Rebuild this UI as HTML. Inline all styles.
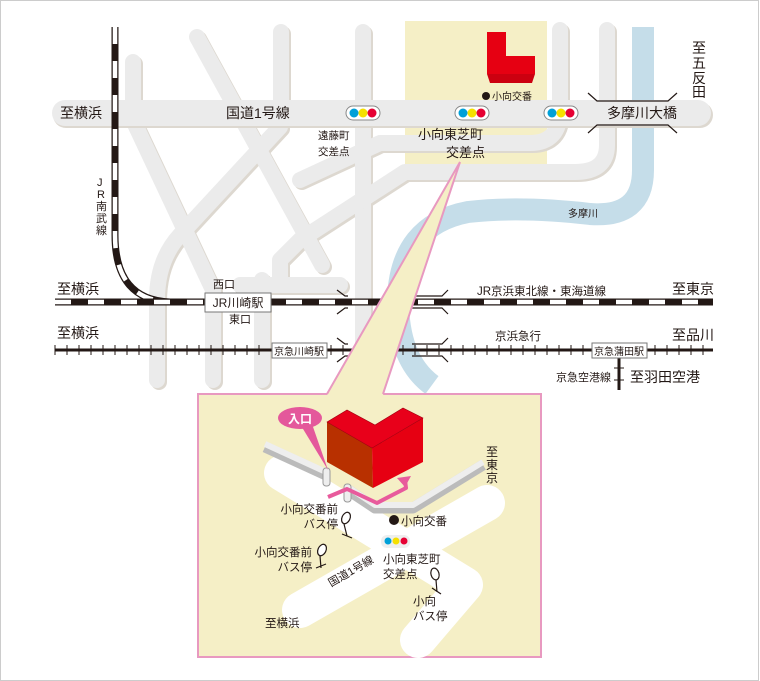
<!DOCTYPE html>
<html><head><meta charset="utf-8">
<style>
html,body{margin:0;padding:0;background:#fff;}
svg{display:block;font-family:"Liberation Sans","Noto Sans CJK JP",sans-serif;}
</style></head><body>
<svg width="760" height="681" viewBox="0 0 760 681" xmlns="http://www.w3.org/2000/svg">
<rect x="0.5" y="0.5" width="758" height="680" fill="#fff" stroke="#ccc"/>
<!-- yellow highlight -->
<rect x="405" y="21" width="142" height="145" fill="#f5efc6"/>
<!-- river -->
<path d="M643,27 L643,170 Q643,218 590,214 Q520,206 468,212 Q400,225 398,300 Q398,360 432,385" fill="none" stroke="#c5dde9" stroke-width="22"/>
<!-- roads -->
<g fill="none" stroke-linecap="round" stroke-linejoin="round">
<g stroke="#ddd8d0" stroke-width="16" transform="translate(2,2)">
<path d="M133,62 L133,113"/><path d="M281,32 L281,113"/><path d="M197,37 L322,265"/>
<path d="M133,120 L213,290 L213,380"/><path d="M280,127 L180,235 Q157,260 157,300 L157,380"/>
<path d="M262,280 L262,380"/><path d="M363,32 L363,380"/>
<path d="M560,30 L560,110 Q560,143 530,143 L380,143 L300,180"/>
<path d="M607,30 L607,145 Q607,172 575,172 L405,172 L300,240 L280,260 L280,285"/>
<path d="M240,285 L340,285"/>
</g>
<g stroke="#ebebeb" stroke-width="16">
<path d="M133,62 L133,113"/><path d="M281,32 L281,113"/><path d="M197,37 L322,265"/>
<path d="M133,120 L213,290 L213,380"/><path d="M280,127 L180,235 Q157,260 157,300 L157,380"/>
<path d="M262,280 L262,380"/><path d="M363,32 L363,380"/>
<path d="M560,30 L560,110 Q560,143 530,143 L380,143 L300,180"/>
<path d="M607,30 L607,145 Q607,172 575,172 L405,172 L300,240 L280,260 L280,285"/>
<path d="M240,285 L340,285"/>
</g>
<path d="M66,115 L700,115" stroke="#ddd8d0" stroke-width="26"/>
<path d="M65,113 L698,113" stroke="#ebebeb" stroke-width="26"/>
</g>
<!-- red building top -->
<polygon points="487,32 506,32 506,56 535,56 535,74 487,74" fill="#e60012"/>
<polygon points="487,74 535,74 532,83 490,83" fill="#cc0010"/>
<circle cx="486" cy="96" r="4" fill="#231815"/>
<text x="492" y="100" font-size="10" fill="#231815">小向交番</text>
<!-- traffic lights -->
<g>
<rect x="346" y="106" width="34" height="14" rx="7" fill="#fff" stroke="#888"/>
<circle cx="354" cy="113" r="4.5" fill="#00a0d8"/><circle cx="363" cy="113" r="4.5" fill="#f5e000"/><circle cx="372" cy="113" r="4.5" fill="#e60033"/>
<rect x="455" y="106" width="34" height="14" rx="7" fill="#fff" stroke="#888"/>
<circle cx="463" cy="113" r="4.5" fill="#00a0d8"/><circle cx="472" cy="113" r="4.5" fill="#f5e000"/><circle cx="481" cy="113" r="4.5" fill="#e60033"/>
<rect x="544" y="106" width="34" height="14" rx="7" fill="#fff" stroke="#888"/>
<circle cx="552" cy="113" r="4.5" fill="#00a0d8"/><circle cx="561" cy="113" r="4.5" fill="#f5e000"/><circle cx="570" cy="113" r="4.5" fill="#e60033"/>
</g>
<!-- bridge marks -->
<g stroke="#231815" stroke-width="1.2" fill="none">
<path d="M588,93 L597,101 L668,101 L677,93"/><path d="M588,133 L597,125 L668,125 L677,133"/>
<path d="M337,290 L345,296 L348,296"/><path d="M337,314 L345,308 L348,308"/>
<path d="M448,290 L442,296 L412,296"/><path d="M448,314 L442,308 L412,308"/>
<path d="M337,338 L345,344 L348,344"/><path d="M337,362 L345,356 L348,356"/>
<path d="M448,338 L442,344 L412,344"/><path d="M448,362 L442,356 L412,356"/>
</g>
<!-- JR lines -->
<path d="M115,27 L115,235 Q115,300 170,302" fill="none" stroke="#231815" stroke-width="7"/>
<path d="M115,27 L115,235 Q115,300 170,302" fill="none" stroke="#fff" stroke-width="4.5" stroke-dasharray="17 17"/>
<line x1="55" y1="302" x2="713" y2="302" stroke="#231815" stroke-width="7"/>
<line x1="55" y1="302" x2="713" y2="302" stroke="#fff" stroke-width="4.5" stroke-dasharray="16 17"/>
<!-- Keikyu -->
<line x1="55" y1="350" x2="713" y2="350" stroke="#231815" stroke-width="3"/>
<path d="M55,345 v10 M67,345 v10 M79,345 v10 M91,345 v10 M103,345 v10 M115,345 v10 M127,345 v10 M139,345 v10 M151,345 v10 M163,345 v10 M175,345 v10 M187,345 v10 M199,345 v10 M211,345 v10 M223,345 v10 M235,345 v10 M247,345 v10 M259,345 v10 M331,345 v10 M343,345 v10 M355,345 v10 M367,345 v10 M379,345 v10 M391,345 v10 M403,345 v10 M415,345 v10 M427,345 v10 M439,345 v10 M451,345 v10 M463,345 v10 M475,345 v10 M487,345 v10 M499,345 v10 M511,345 v10 M523,345 v10 M535,345 v10 M547,345 v10 M559,345 v10 M571,345 v10 M583,345 v10 M655,345 v10 M667,345 v10 M679,345 v10 M691,345 v10 M703,345 v10" stroke="#231815" stroke-width="1"/>
<line x1="619" y1="358" x2="619" y2="390" stroke="#231815" stroke-width="3"/>
<path d="M614,368 h10 M614,380 h10" stroke="#231815" stroke-width="1"/>
<!-- station boxes -->
<rect x="205" y="293" width="66" height="19" fill="#fff" stroke="#777"/>
<text x="238" y="307" font-size="12" text-anchor="middle" fill="#231815">JR川崎駅</text>
<rect x="272" y="343" width="55" height="15" fill="#fff" stroke="#777"/>
<text x="299" y="355" font-size="10" text-anchor="middle" fill="#231815">京急川崎駅</text>
<rect x="592" y="343" width="55" height="15" fill="#fff" stroke="#777"/>
<text x="619" y="355" font-size="10" text-anchor="middle" fill="#231815">京急蒲田駅</text>
<!-- labels main -->
<g fill="#231815">
<text x="60" y="118" font-size="14">至横浜</text>
<text x="226" y="118" font-size="14">国道1号線</text>
<text x="318" y="139" font-size="10.5">遠藤町</text>
<text x="318" y="155" font-size="10.5">交差点</text>
<text x="418" y="139" font-size="13">小向東芝町</text>
<text x="446" y="157" font-size="13">交差点</text>
<text x="607" y="118" font-size="14">多摩川大橋</text>
<text x="568" y="217" font-size="10">多摩川</text>
<text font-size="14" x="692" y="53">至</text><text font-size="14" x="692" y="68">五</text><text font-size="14" x="692" y="83">反</text><text font-size="14" x="692" y="97">田</text>
<text font-size="11" x="97" y="186">J</text><text font-size="11" x="97" y="198">R</text><text font-size="11" x="96" y="210">南</text><text font-size="11" x="96" y="222">武</text><text font-size="11" x="96" y="234">線</text>
<text x="213" y="288" font-size="11">西口</text>
<text x="229" y="323" font-size="11">東口</text>
<text x="57" y="294" font-size="14">至横浜</text>
<text x="57" y="338" font-size="14">至横浜</text>
<text x="477" y="295" font-size="11.5">JR京浜東北線・東海道線</text>
<text x="672" y="294" font-size="14">至東京</text>
<text x="495" y="340" font-size="11.5">京浜急行</text>
<text x="672" y="340" font-size="14">至品川</text>
<text x="556" y="381" font-size="11">京急空港線</text>
<text x="630" y="382" font-size="14">至羽田空港</text>
</g>
<!-- callout -->
<rect x="198" y="394" width="343" height="263" fill="#f5efc6" stroke="#e899c0" stroke-width="2"/>
<polygon points="460,162 327,395 383,395" fill="#f5efc6"/>
<path d="M327,394 L460,162 L383,394" fill="none" stroke="#e899c0" stroke-width="2"/>
<!-- inset roads -->
<g fill="none" stroke="#fff" stroke-width="36" stroke-linecap="round" stroke-linejoin="round">
<path d="M282,473 L465,585 L418,640"/>
<path d="M300,610 L487,503"/>
</g>
<!-- walls -->
<g fill="none" stroke-linejoin="round">
<path d="M265,447 L326,475" stroke="#bbb" stroke-width="11"/>
<path d="M265,444 L326,472" stroke="#eee" stroke-width="6"/>
<path d="M348,490 L375,508 L413,508 L483,465" stroke="#bbb" stroke-width="11"/>
<path d="M348,487 L375,505 L413,505 L483,462" stroke="#eee" stroke-width="6"/>
</g>
<rect x="323" y="468" width="7" height="18" rx="3" fill="#eee" stroke="#999"/>
<rect x="344" y="484" width="7" height="18" rx="3" fill="#eee" stroke="#999"/>
<!-- building -->
<polygon points="327,422 372,448 373,488 327,462" fill="#b83000"/>
<polygon points="372,448 423,418 423,462 373,488" fill="#e60012"/>
<polygon points="327,422 347,410 375,425 403,408 423,418 372,448" fill="#e8001a" stroke="#a00010" stroke-width="0.6"/>
<!-- pink arrow -->
<path d="M328,497 L347,489 L377,503 L406,488 L405,480" fill="none" stroke="#e85a9c" stroke-width="4" stroke-linejoin="round"/>
<polygon points="397,478 411,476 405,487" fill="#e85a9c"/>
<!-- entrance bubble -->
<polygon points="300,424 312,424 328,470" fill="#e4589b"/>
<ellipse cx="300" cy="418" rx="22" ry="11" fill="#e4589b"/>
<text x="300" y="423" font-size="12" fill="#fff" text-anchor="middle" font-weight="bold">入口</text>
<!-- inset details -->
<g fill="#231815">
<text font-size="12" x="486" y="456">至</text><text font-size="12" x="486" y="469">東</text><text font-size="12" x="486" y="482">京</text>
<text x="338" y="513" font-size="11.5" text-anchor="end">小向交番前</text>
<text x="338" y="528" font-size="11.5" text-anchor="end">バス停</text>
<circle cx="394" cy="520" r="5"/>
<text x="401" y="525" font-size="11.5">小向交番</text>
<text x="312" y="556" font-size="11.5" text-anchor="end">小向交番前</text>
<text x="312" y="571" font-size="11.5" text-anchor="end">バス停</text>
<text x="383" y="563" font-size="11.5">小向東芝町</text>
<text x="383" y="578" font-size="11.5">交差点</text>
<text x="413" y="605" font-size="11.5">小向</text>
<text x="413" y="620" font-size="11.5">バス停</text>
<text x="265" y="627" font-size="11.5">至横浜</text>
<text x="0" y="0" font-size="11" transform="translate(331,587) rotate(-30)">国道1号線</text>
</g>
<rect x="381" y="535" width="29" height="13" rx="6" fill="#eee"/>
<circle cx="388" cy="541" r="3.5" fill="#00a0d8"/><circle cx="396" cy="541" r="3.5" fill="#f5e000"/><circle cx="404" cy="541" r="3.5" fill="#e60033"/>
<g fill="#fff" stroke="#231815" stroke-width="1.2">
<ellipse cx="346" cy="518" rx="4" ry="6" transform="rotate(25 346 518)"/>
<path d="M344,524 L347,536 M342,534 L352,538" fill="none"/>
<ellipse cx="322" cy="550" rx="4" ry="6" transform="rotate(25 322 550)"/>
<path d="M320,556 L321,568 M316,568 L326,564" fill="none"/>
<ellipse cx="435" cy="574" rx="4" ry="6" transform="rotate(-15 435 574)"/>
<path d="M436,580 L437,592 M432,588 L441,594" fill="none"/>
</g>
</svg>
</body></html>
